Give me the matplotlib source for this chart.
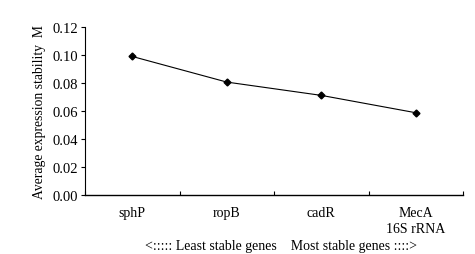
import numpy as np
import matplotlib
matplotlib.use('Agg')
import matplotlib.pyplot as plt

# -----------------------
# Data
# -----------------------
genes = ['sphP', 'ropB', 'cadR', 'MecA\n16S rRNA']
m_values = [0.099, 0.0807, 0.0712, 0.0588]
y_ticks = [0.00, 0.02, 0.04, 0.06, 0.08, 0.10, 0.12]

plt.rcParams['font.family'] = ['Liberation Serif', 'DejaVu Serif']

fig = plt.figure(figsize=(4.75, 2.55), dpi=100)
ax = fig.add_axes([0.179, 0.231, 0.796, 0.659])

x = np.arange(len(genes))
ax.plot(x, m_values, color='black', lw=0.8, marker='D', ms=3.5, mfc='black', mec='black')

ax.set_xlim(-0.5, len(genes) - 0.5)
ax.set_ylim(0, 0.12)
ax.set_yticks(y_ticks)
ax.set_yticklabels([f'{v:.2f}' for v in y_ticks], fontsize=10.5)

# category labels between ticks, ticks at the boundaries
ax.set_xticks(np.arange(len(genes) + 1) - 0.5)
ax.set_xticklabels([])
ax.set_xticks(x, minor=True)
ax.set_xticklabels(genes, minor=True, fontsize=10, linespacing=1.25, va='top')
ax.tick_params(axis='x', which='major', direction='in', length=3, width=0.8)
ax.tick_params(axis='x', which='minor', length=0, pad=8)
ax.tick_params(axis='y', direction='out', length=3, width=0.8, pad=2)

for s in ['top', 'right']:
    ax.spines[s].set_visible(False)
ax.spines['left'].set_linewidth(0.8)
ax.spines['bottom'].set_linewidth(1.0)

ax.set_ylabel('Average expression stability  M', fontsize=9.8, labelpad=5)
fig.text(0.592, 0.035, '<::::: Least stable genes    Most stable genes ::::>',
         ha='center', va='center', fontsize=10)

fig.savefig('out.png', dpi=100)
